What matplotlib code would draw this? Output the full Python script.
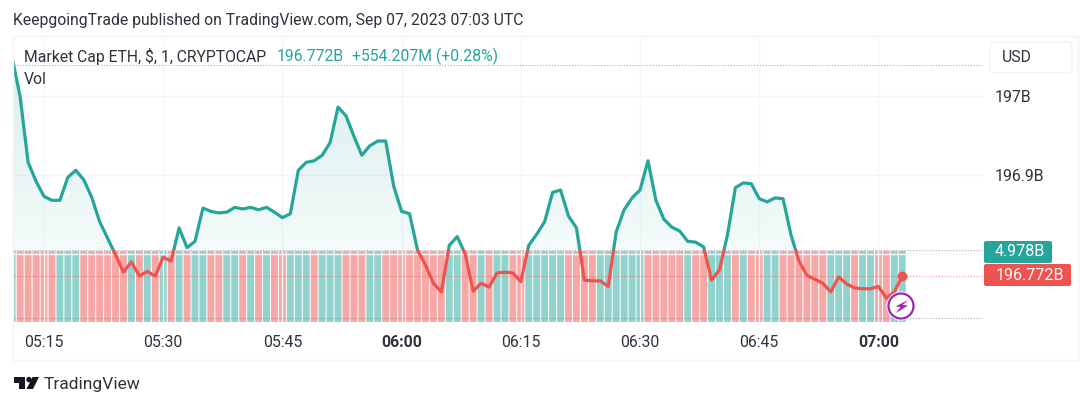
"""Market Cap ETH 1-minute baseline chart with volume, TradingView snapshot style."""

import matplotlib
matplotlib.use("Agg")
import matplotlib.pyplot as plt
import numpy as np
from matplotlib.patches import Circle, FancyBboxPatch, Polygon, Rectangle
from matplotlib.path import Path

W, H = 1090, 407

C_UP = "#26a69a"
C_DOWN = "#ef5350"
C_TEXT = "#2f323c"
C_BORDER = "#f0f3fa"
C_GRID = "#f5f6f9"
C_DOT = "#787b86"

plt.rcParams["font.family"] = ["Roboto", "DejaVu Sans"]

FIRST_MINUTE = 5 * 60 + 11  # 05:11, cut by the left edge

# one value per minute from 05:11 to 07:03 (billions)
PRICES = [
    197.048, 196.999, 196.916, 196.892, 196.873, 196.868, 196.868, 196.897,
    196.906, 196.894, 196.872, 196.841, 196.820, 196.799, 196.777, 196.790,
    196.772, 196.778, 196.772, 196.796, 196.791, 196.833, 196.808, 196.816,
    196.858, 196.854, 196.852, 196.853, 196.859, 196.857, 196.859, 196.856,
    196.859, 196.853, 196.846, 196.851, 196.906, 196.916, 196.918, 196.925,
    196.941, 196.986, 196.975, 196.949, 196.925, 196.937, 196.943, 196.943,
    196.886, 196.854, 196.851, 196.805, 196.786, 196.763, 196.752, 196.811,
    196.822, 196.800, 196.753, 196.763, 196.758, 196.776, 196.777, 196.776,
    196.765, 196.811, 196.825, 196.841, 196.878, 196.881, 196.848, 196.833,
    196.767, 196.766, 196.766, 196.759, 196.828, 196.856, 196.871, 196.881,
    196.918, 196.868, 196.844, 196.834, 196.829, 196.816, 196.815, 196.809,
    196.767, 196.780, 196.824, 196.884, 196.890, 196.889, 196.870, 196.866,
    196.871, 196.870, 196.824, 196.791, 196.773, 196.768, 196.763, 196.752,
    196.771, 196.762, 196.757, 196.756, 196.756, 196.759, 196.744, 196.752,
    196.772,
]

# t = up bar, r = down bar, same minutes as PRICES
BAR_SIDES = (
    "trrrrrtttrrrrrrtrtrtrtrttrrttrtrtrrtt"
    "trtttrrrttrrrrrrrrttrrtrttrrtttttrrrr"
    "ttttttrrrrrtrrtttrtrrttrrrrrrtttrttrrt"
)

VOLUMES = [
    4.978, 4.978, 4.978, 4.978, 4.978, 4.978, 4.978, 4.978, 4.978, 4.978,
    4.978, 4.978, 4.978, 4.978, 4.978, 4.978, 4.978, 4.978, 4.978, 4.978,
    4.978, 4.978, 4.978, 4.978, 4.978, 4.978, 4.978, 4.978, 4.978, 4.978,
    4.978, 4.978, 4.978, 4.978, 4.978, 4.978, 4.978, 4.978, 4.978, 4.978,
    4.978, 4.978, 4.978, 4.978, 4.978, 4.978, 4.978, 4.978, 4.978, 4.978,
    4.978, 4.978, 4.978, 4.978, 4.978, 4.978, 4.978, 4.978, 4.978, 4.978,
    4.978, 4.978, 4.978, 4.978, 4.978, 4.978, 4.978, 4.978, 4.978, 4.978,
    4.978, 4.978, 4.978, 4.978, 4.978, 4.978, 4.978, 4.978, 4.978, 4.978,
    4.978, 4.978, 4.978, 4.978, 4.978, 4.978, 4.978, 4.978, 4.978, 4.978,
    4.978, 4.978, 4.978, 4.978, 4.978, 4.978, 4.978, 4.978, 4.978, 4.978,
    4.978, 4.978, 4.978, 4.978, 4.978, 4.978, 4.978, 4.978, 4.978, 4.978,
    4.978, 4.978, 4.978,
]

BASELINE = 196.805
HIGH_LINE = 197.039
LOW_LINE = 196.719
LAST_PRICE = 196.772
LAST_VOLUME = 4.978

TIME_TICKS = [315, 330, 345, 360, 375, 390, 405, 420]
TIME_LABELS = ["05:15", "05:30", "05:45", "06:00", "06:15", "06:30", "06:45", "07:00"]
BOLD_TIMES = ["06:00", "07:00"]
PRICE_TICKS = [196.8, 196.9, 197.0]
PRICE_LABELS = ["", "196.9B", "197B"]

FS = 11.3

fig = plt.figure(figsize=(W / 100, H / 100), dpi=100, facecolor="white")

# plot area in pixels: x 14..983, y 37..322
ax = fig.add_axes([14 / W, (H - 322) / H, (983 - 14) / W, (322 - 37) / H])
ax_vol = ax.twinx()
ax.set_zorder(2)
ax.patch.set_visible(False)
ax_vol.set_zorder(1)

minutes = FIRST_MINUTE + np.arange(len(PRICES))
prices = np.array(PRICES)
xlim = (315 - 30 / 7.947, 315 + 939 / 7.947)
ylim = (197 - 226 / 790, 197 + 59 / 790)

# volume, snapping off or the 1px gaps come out uneven
bar_colors = [C_UP if s == "t" else C_DOWN for s in BAR_SIDES]
bars = ax_vol.bar(minutes, VOLUMES, width=0.87, color=bar_colors, alpha=0.5, linewidth=0)
for bar in bars:
    bar.set_snap(False)
ax_vol.set_ylim(0, LAST_VOLUME * 285 / 71)
ax_vol.axis("off")

# gradient fill over the baseline
poly = ax.fill_between(minutes, prices, BASELINE, where=prices >= BASELINE,
                       interpolate=True, facecolor="none", edgecolor="none")
grad = np.zeros((64, 2, 4))
grad[..., :3] = matplotlib.colors.to_rgb(C_UP)
grad[..., 3] = np.linspace(0.17, 0.05, 64)[:, None]
im = ax.imshow(grad, extent=(xlim[0], xlim[1], BASELINE, 197.02), origin="upper",
               aspect="auto", zorder=1)
im.set_clip_path(Path.make_compound_path(*poly.get_paths()), transform=ax.transData)

# baseline line, two colours split at the baseline
up_line, = ax.plot(minutes, prices, color=C_UP, lw=2.3, zorder=4, solid_joinstyle="round")
down_line, = ax.plot(minutes, prices, color=C_DOWN, lw=2.3, zorder=4, solid_joinstyle="round")
up_line.set_clip_path(Rectangle((xlim[0], BASELINE), xlim[1] - xlim[0], 1, transform=ax.transData))
down_line.set_clip_path(Rectangle((xlim[0], BASELINE - 1), xlim[1] - xlim[0], 1, transform=ax.transData))
ax.plot(minutes[-1], LAST_PRICE, "o", color=C_DOWN, ms=7, mew=0, zorder=5)

# dotted level lines
for level, color in [(HIGH_LINE, C_DOT), (BASELINE, C_DOT), (LOW_LINE, C_DOT), (LAST_PRICE, C_DOWN)]:
    ax.axhline(level, color=color, lw=0.8, ls=(0, (1, 1.6)), alpha=0.6, zorder=3)

ax.set_xlim(xlim)
ax.set_ylim(ylim)
ax.set_xticks(TIME_TICKS)
ax.set_xticklabels(TIME_LABELS, fontsize=11.4, color=C_TEXT)
for tick in ax.get_xticklabels():
    if tick.get_text() in BOLD_TIMES:
        tick.set_fontweight("bold")
ax.yaxis.tick_right()
ax.set_yticks(PRICE_TICKS)
ax.set_yticklabels(PRICE_LABELS, fontsize=11.4, color=C_TEXT)
ax.tick_params(axis="x", length=0, pad=9.5)
ax.tick_params(axis="y", length=0, pad=8.5)
ax.grid(True, color=C_GRID, lw=1)
ax.set_axisbelow(True)
for spine in ax.spines.values():
    spine.set_visible(False)

# everything around the plot, in pixel coordinates
ov = fig.add_axes([0, 0, 1, 1], zorder=5)
ov.set_xlim(0, W)
ov.set_ylim(H, 0)
ov.axis("off")

ov.add_patch(Rectangle((13, 36), 1065, 324, fill=False, edgecolor=C_BORDER, lw=1))
ov.add_patch(FancyBboxPatch((990, 42), 82, 31, boxstyle="round,pad=0,rounding_size=5",
                            facecolor="white", edgecolor=C_BORDER, lw=1))
ov.text(1002, 57.5, "USD", fontsize=FS, color=C_TEXT, va="center")

ov.text(13, 20, "KeepgoingTrade published on TradingView.com, Sep 07, 2023 07:03 UTC",
        fontsize=FS, color=C_TEXT, va="center")
ov.text(24, 56.5, "Market Cap ETH, $, 1, CRYPTOCAP", fontsize=FS, color=C_TEXT, va="center")
ov.text(277, 56.5, f"{LAST_PRICE:.3f}B", fontsize=FS, color=C_UP, va="center")
ov.text(352, 56.5, "+554.207M (+0.28%)", fontsize=FS, color=C_UP, va="center")
ov.text(24, 79, "Vol", fontsize=FS, color=C_TEXT, va="center")

# last value tags
ov.add_patch(FancyBboxPatch((984, 241), 68, 22, boxstyle="round,pad=0,rounding_size=2",
                            facecolor=C_UP, edgecolor="none"))
ov.text(995, 252, f"{LAST_VOLUME:.3f}B", fontsize=11.6, color="white", va="center")
ov.add_patch(FancyBboxPatch((984, 264), 87, 22, boxstyle="round,pad=0,rounding_size=2",
                            facecolor=C_DOWN, edgecolor="none"))
ov.text(996, 275.5, f"{LAST_PRICE:.3f}B", fontsize=11.6, color="white", va="center")

# lightning badge
ov.add_patch(Circle((901, 306), 14.5, facecolor="white", edgecolor="none"))
ov.add_patch(Circle((901, 306), 12.5, facecolor="white", edgecolor="#9c27b0", lw=1.6))
ov.add_patch(Polygon([(908, 300), (895.5, 306.5), (900.5, 307), (896, 313), (908, 305.5), (902.5, 305)],
                     closed=True, facecolor="#9c27b0", edgecolor="none"))

# logo
ov.add_patch(Polygon([(13.5, 377), (25, 377), (25, 389), (19, 389), (19, 382.5), (13.5, 382.5)],
                     closed=True, facecolor="#131722", edgecolor="none"))
ov.add_patch(Circle((29, 379.6), 2.7, facecolor="#131722", edgecolor="none"))
ov.add_patch(Polygon([(32.5, 377), (39, 377), (33, 389), (26.5, 389)],
                     closed=True, facecolor="#131722", edgecolor="none"))
ov.text(44, 384, "TradingView", fontsize=12.5, color=C_TEXT, va="center")

fig.savefig("out.png", dpi=100)
